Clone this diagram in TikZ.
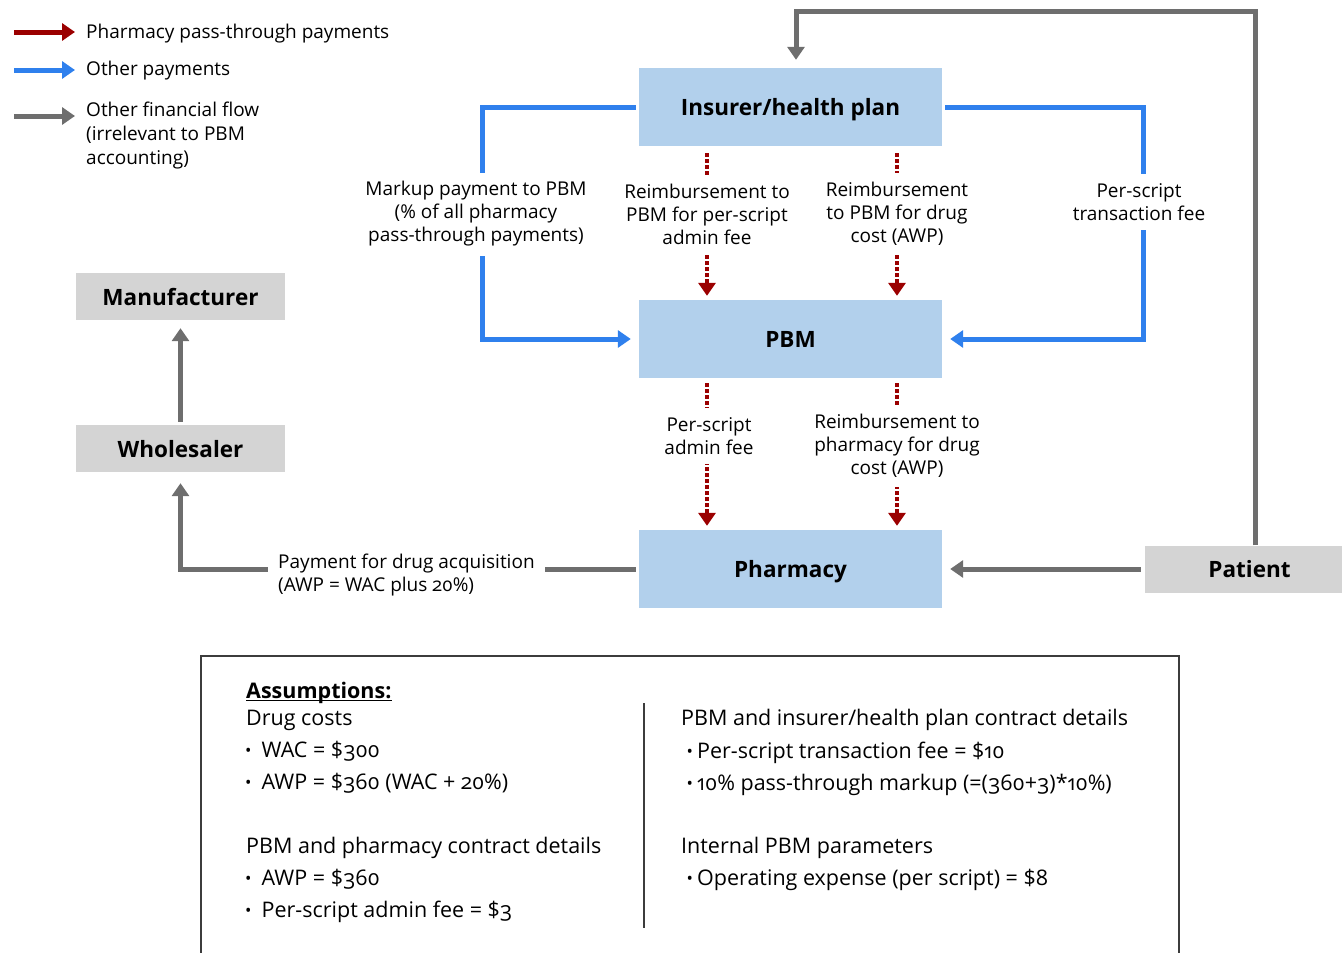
\documentclass[tikz,border=0pt]{standalone}
\usepackage{fontspec}
\setmainfont{Open Sans}[Numbers=OldStyle]
\usetikzlibrary{arrows.meta}

\definecolor{passred}{RGB}{155,0,0}
\definecolor{payblue}{RGB}{47,128,237}
\definecolor{flowgrey}{RGB}{110,110,110}
\definecolor{nodeblue}{RGB}{178,208,236}
\definecolor{nodegrey}{RGB}{212,212,212}
\definecolor{boxgrey}{RGB}{60,60,60}

\tikzset{
  tip/.style={-{Triangle[length=13pt,width=17pt]}},
  redflow/.style={tip, draw=passred, line width=4pt, dash pattern=on 3.5pt off 2.5pt},
  blueflow/.style={tip, draw=payblue, line width=5pt},
  greyflow/.style={tip, draw=flowgrey, line width=5pt},
  bluebox/.style={fill=nodeblue, minimum width=303pt, minimum height=78pt, inner sep=0pt,
    text depth=0pt, font=\bfseries\fontsize{22.5}{26}\selectfont},
  greybox/.style={fill=nodegrey, minimum width=209pt, minimum height=47pt, inner sep=0pt,
    text depth=0pt, font=\bfseries\fontsize{22.5}{26}\selectfont},
  flowlbl/.style={fill=white, align=center, inner xsep=2pt, inner ysep=9pt,
    font=\fontsize{19}{23}\selectfont},
  legtxt/.style={anchor=base west, inner sep=0pt, font=\fontsize{19}{24}\selectfont},
  atext/.style={anchor=base west, inner sep=0pt, font=\fontsize{21.5}{25}\selectfont},
  boxline/.style={draw=boxgrey, line width=1.8pt},
}
% list bullets of the assumptions panel
\newcommand\dotmark{\raisebox{1pt}{\fontsize{17}{17}\selectfont •}}
\newcommand\lbul{\makebox[16.5pt][l]{\dotmark}}
\newcommand\rbul{\makebox[10.5pt][l]{\dotmark}}

\begin{document}
\begin{tikzpicture}[x=1pt, y=-1pt]
\useasboundingbox (0,0) rectangle (1342,953);

% ---- legend ----
\coordinate (lg1a) at (14,32);  \coordinate (lg1b) at (75,32);
\coordinate (lg2a) at (14,70);  \coordinate (lg2b) at (75,70);
\coordinate (lg3a) at (14,116); \coordinate (lg3b) at (75,116);
\draw[tip, draw=passred, line width=5pt] (lg1a) -- (lg1b);
\draw[blueflow] (lg2a) -- (lg2b);
\draw[greyflow] (lg3a) -- (lg3b);
\node[legtxt] (lt1) at (86,38) {Pharmacy pass-through payments};
\node[legtxt] (lt2) at (86,75) {Other payments};
\node[legtxt] (lt3a) at (86,116) {Other financial flow};
\node[legtxt] (lt3b) at (86,140) {(irrelevant to PBM};
\node[legtxt] (lt3c) at (86,164) {accounting)};

% ---- parties ----
\node[bluebox] (ins) at (790.5,107) {Insurer/health plan};
\node[bluebox] (pbm) at (790.5,339) {PBM};
\node[bluebox] (pha) at (790.5,569) {Pharmacy};
\node[greybox] (man) at (180.5,296.5) {Manufacturer};
\node[greybox] (whl) at (180.5,448.5) {Wholesaler};
\node[greybox] (pat) at (1249.5,569) {Patient};

% ---- corner points of the elbow connectors ----
\coordinate (lcorner) at (482,339);
\coordinate (rcorner) at (1143,339);
\coordinate (topcorner) at (796,11);

% ---- pass-through payments ----
\draw[redflow, shorten <=7pt, shorten >=4pt] ([xshift=-83.5pt]ins.south) -- ([xshift=-83.5pt]pbm.north);
\draw[redflow, shorten <=7pt, shorten >=4pt] ([xshift=106.5pt]ins.south) -- ([xshift=106.5pt]pbm.north);
\draw[redflow, shorten <=5pt, shorten >=4pt] ([xshift=-83.5pt]pbm.south) -- ([xshift=-83.5pt]pha.north);
\draw[redflow, shorten <=5pt, shorten >=4pt] ([xshift=106.5pt]pbm.south) -- ([xshift=106.5pt]pha.north);

% ---- other payments ----
\draw[blueflow, shorten <=3pt, shorten >=8pt] (ins.west) -| (lcorner) -- (pbm.west);
\draw[blueflow, shorten <=3pt, shorten >=8pt] (ins.east) -| (rcorner) -- (pbm.east);

% ---- other financial flows ----
\draw[greyflow, shorten >=8pt] ([xshift=5.5pt]pat.north) |- (topcorner) -- ([xshift=5.5pt]ins.north);
\draw[greyflow, shorten <=4pt, shorten >=8pt] (pat.west) -- (pha.east);
\draw[greyflow, shorten <=3pt, shorten >=11pt] (pha.west) -| (whl.south);
\draw[greyflow, shorten <=3pt, shorten >=8pt] (whl.north) -- (man.south);

% ---- connector labels ----
\node[flowlbl] (mk) at (476,214) {Markup payment to PBM\\(\% of all pharmacy\\pass-through payments)};
\node[flowlbl] (ra) at (707,214) {Reimbursement to\\PBM for per-script\\admin fee};
\node[flowlbl] (rd) at (897,214) {Reimbursement\\to PBM for drug\\cost (AWP)};
\node[flowlbl] (tf) at (1139,202) {Per-script\\transaction fee};
\node[flowlbl] (pa) at (709,436) {Per-script\\admin fee};
\node[flowlbl] (rp) at (897,446) {Reimbursement to\\pharmacy for drug\\cost (AWP)};
\node[flowlbl, anchor=west, align=left, inner xsep=10pt] (pd) at (268,575)
  {Payment for drug acquisition\\(AWP = WAC plus 20\%)};

% ---- assumptions panel ----
\draw[boxline] (201,960) -- (201,656) -- (1179,656) -- (1179,960);
\draw[boxline, line width=1.5pt] (644,703) -- (644,928);

\node[atext, font=\bfseries\fontsize{21.5}{25}\selectfont] (asm) at (246,698) {Assumptions:};
\draw[line width=1.5pt] ([yshift=-2.5pt]asm.base west) -- ([yshift=-2.5pt]asm.base east);
\node[atext] (a1) at (246,725) {Drug costs};
\node[atext] (a2) at (245,757) {\lbul WAC = \$300};
\node[atext] (a3) at (245,789) {\lbul AWP = \$360 (WAC + 20\%)};
\node[atext] (a4) at (246,853) {PBM and pharmacy contract details};
\node[atext] (a5) at (245,885) {\lbul AWP = \$360};
\node[atext] (a6) at (245,917) {\lbul Per-script admin fee = \$3};

\node[atext] (b1) at (681,725) {PBM and insurer/health plan contract details};
\node[atext] (b2) at (686.5,758) {\rbul Per-script transaction fee = \$10};
\node[atext] (b3) at (686.5,790) {\rbul 10\% pass-through markup (=(360+3)*10\%)};
\node[atext] (b4) at (681,853) {Internal PBM parameters};
\node[atext] (b5) at (686.5,885) {\rbul Operating expense (per script) = \$8};
\end{tikzpicture}
\end{document}
